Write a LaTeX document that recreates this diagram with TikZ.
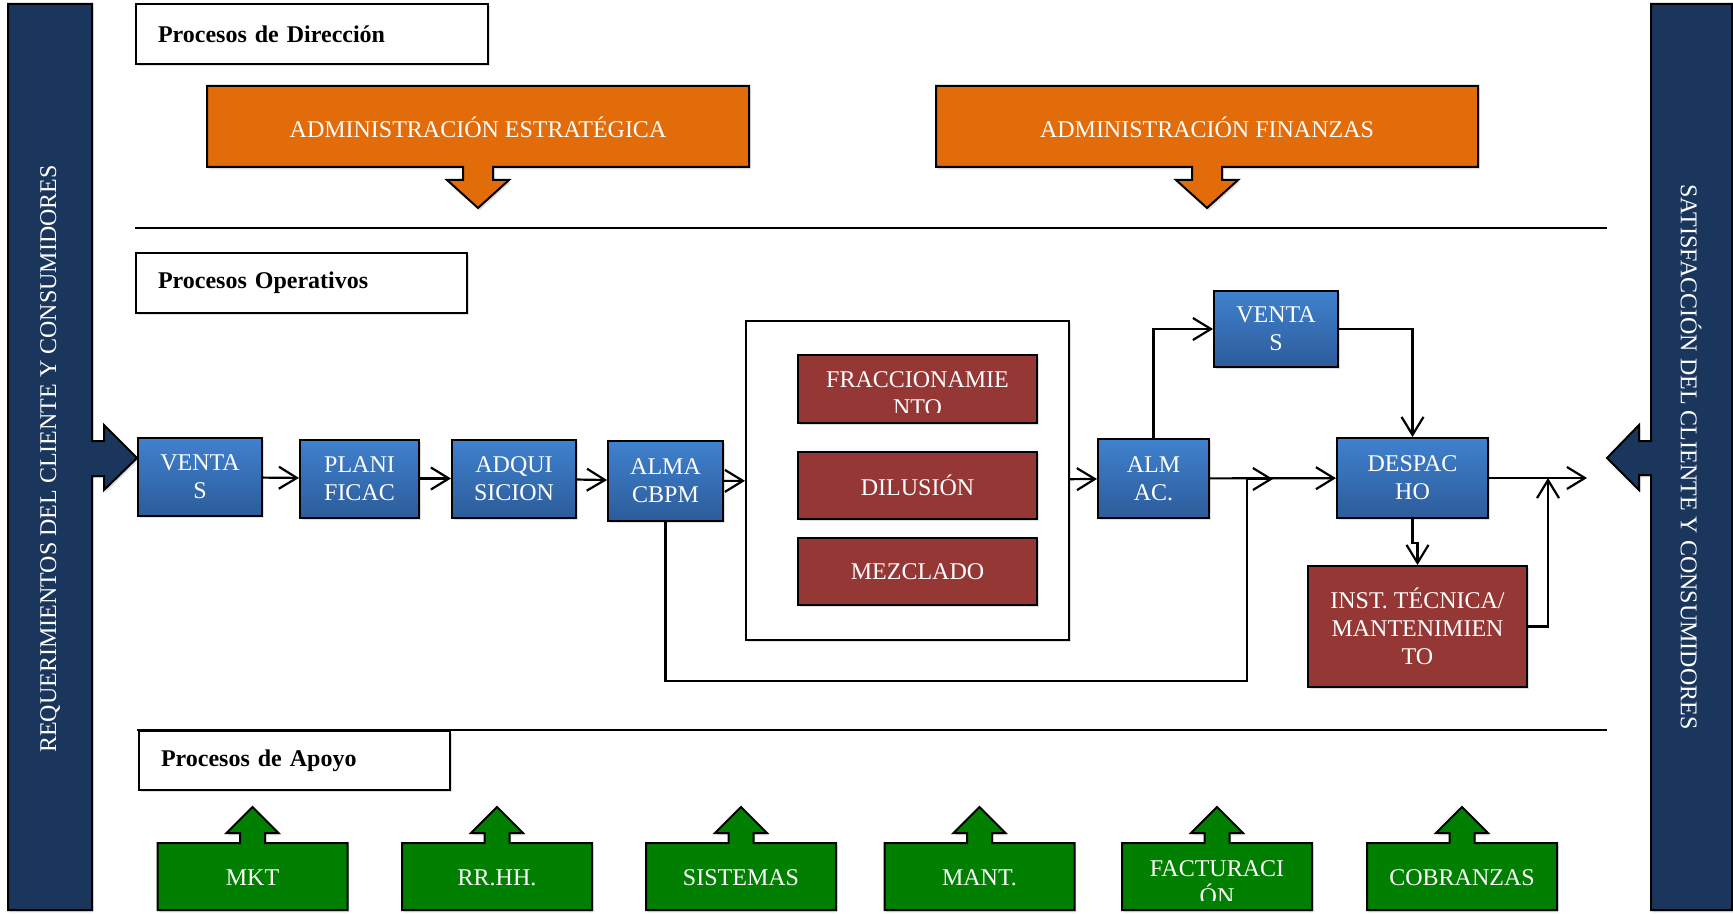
\documentclass[tikz,border=0pt]{standalone}
\usepackage{fontspec}
\setmainfont{Liberation Serif}
\usetikzlibrary{arrows.meta,positioning,calc,shadows}

\definecolor{navy}{HTML}{1B365D}
\definecolor{naranja}{HTML}{E36C0A}
\definecolor{azulA}{HTML}{4081CE}
\definecolor{azulB}{HTML}{2C5C9A}
\definecolor{rojo}{HTML}{953735}
\definecolor{verde}{HTML}{007F00}

\begin{document}
\begin{tikzpicture}[
  x=0.5pt, y=0.5pt,
  font=\fontsize{12}{14}\selectfont,
  >={Straight Barb[length=9pt,width=11pt]},
  sombra/.style={drop shadow={shadow xshift=0.8pt, shadow yshift=-1.2pt, opacity=0.25}},
  titulo/.style={draw, line width=1pt, fill=white, sombra, align=left, inner xsep=11pt, font=\fontsize{12}{14}\selectfont\bfseries, anchor=north west},
  proc/.style={draw, line width=1pt, sombra, top color=azulA, bottom color=azulB, text=white, align=center, minimum height=39pt},
  tarea/.style={draw, line width=1pt, sombra, fill=rojo, text=white, align=center},
  bloque/.style={draw, line width=1pt, sombra},
  etiq/.style={text=white, align=center},
  flow/.style={->, line width=1.1pt},
  regla/.style={line width=1pt}
]
\useasboundingbox (0,0) rectangle (1733,-914);

\filldraw[bloque, fill=navy] (8,-4) -- (92,-4) -- (92,-441) -- (104,-441) -- (104,-425) -- (137,-458)
  -- (104,-490) -- (104,-476) -- (92,-476) -- (92,-910) -- (8,-910) -- cycle;
\node[etiq, rotate=90] (req) at (50,-459) {REQUERIMIENTOS DEL CLIENTE Y CONSUMIDORES};

\filldraw[bloque, fill=navy] (1732,-4) -- (1651,-4) -- (1651,-441) -- (1639,-441) -- (1639,-425) -- (1607,-458)
  -- (1639,-490) -- (1639,-475) -- (1651,-475) -- (1651,-910) -- (1732,-910) -- cycle;
\node[etiq, rotate=-90] (sat) at (1691,-457) {SATISFACCIÓN DEL CLIENTE Y CONSUMIDORES};

\node[titulo, text width=154pt, minimum height=30pt] (tdir) at (135,-3) {Procesos de Dirección};
\node[titulo, text width=143.5pt, minimum height=30pt] (tope) at (135,-252) {Procesos Operativos};
\node[titulo, text width=133.5pt, minimum height=29.5pt] (tapo) at (138,-730) {Procesos de Apoyo};

\foreach \cx/\nm/\lab in {478/admest/{ADMINISTRACIÓN ESTRATÉGICA}, 1207/admfin/{ADMINISTRACIÓN FINANZAS}} {
  \filldraw[bloque, fill=naranja] (\cx-271,-86) -- (\cx+271,-86) -- (\cx+271,-167) -- (\cx+15,-167) -- (\cx+15,-180)
    -- (\cx+31,-180) -- (\cx,-208) -- (\cx-31,-180) -- (\cx-15,-180) -- (\cx-15,-167) -- (\cx-271,-167) -- cycle;
  \node[etiq] (\nm) at (\cx,-127) {\lab};
}

\draw[regla] (135,-228) -- (1607,-228);
\draw[regla] (137,-730) -- (1607,-730);

\node[proc, minimum width=62pt] (ventas) at (200,-477) {VENTA\\S};
\node[proc, minimum width=59.5pt] (planif) at (359.5,-478.5) {PLANI\\FICAC};
\node[proc, minimum width=62pt] (adqui) at (514,-478.5) {ADQUI\\SICION};
\node[proc, minimum width=57.5pt, minimum height=40pt] (almacbpm) at (665.5,-481) {ALMA\\CBPM};

\node[bloque, fill=white, minimum width=161.5pt, minimum height=159.5pt] (planta) at (907.5,-480.5) {};
\node[tarea, minimum width=119.5pt, minimum height=34pt] (fracc) at (917.5,-389) {};
\begin{scope}
  \clip (fracc.north west) rectangle ($(fracc.south east)+(0,12)$);
  \node[etiq] (fracctxt) at ($(fracc.center)+(0,-5)$) {FRACCIONAMIE\\NTO};
\end{scope}
\node[tarea, minimum width=119.5pt, minimum height=33.5pt] (dilu) at (917.5,-485.5) {DILUSIÓN};
\node[tarea, minimum width=119.5pt, minimum height=33.5pt] (mezcla) at (917.5,-571.5) {MEZCLADO};

\node[proc, minimum width=55.5pt, minimum height=39.5pt] (almac) at (1153.5,-478.5) {ALM\\AC.};
\node[proc, minimum width=62pt, minimum height=38pt] (ventas2) at (1276,-329) {VENTA\\S};
\node[proc, minimum width=75.5pt, minimum height=40pt] (despacho) at (1412.5,-478) {DESPAC\\HO};
\node[tarea, minimum width=109.5pt, minimum height=60.5pt] (inst) at (1417.5,-626.5) {INST. TÉCNICA/\\MANTENIMIEN\\TO};

\coordinate (union) at (1247,-479);
\coordinate (llegada) at (1273,-479);
\coordinate (salida) at (1587,-478);
\coordinate (retorno) at (1548,-478);

\foreach \a/\b in {ventas/planif, planif/adqui, adqui/almacbpm, almacbpm/planta, planta/almac, almac/despacho}
  \draw[flow] (\a) -- (\b);
\draw[flow] (almacbpm.south) -- ++(0,-159) -| (union) -- (llegada);
\draw[flow] (almac.north) |- (ventas2.west);
\draw[flow] (ventas2.east) -| (despacho.north);
\draw[flow] (despacho.south) -- ++(0,-24) -| (inst.north);
\draw[flow] (despacho.east) -- (salida);
\draw[flow] (inst.east) -| (retorno);

\foreach \cx/\cy/\nm/\lab in {252.5/878/mkt/MKT, 497/878/rrhh/RR.HH., 741/878/sistemas/SISTEMAS,
    979.5/878/mant/MANT., 1217/883/factu/{FACTURACI\\ÓN}, 1462/878/cobra/COBRANZAS} {
  \filldraw[bloque, fill=verde] (\cx-95,-910) -- (\cx-95,-843) -- (\cx-12.5,-843) -- (\cx-12.5,-833) -- (\cx-26,-833)
    -- (\cx,-807) -- (\cx+26,-833) -- (\cx+12.5,-833) -- (\cx+12.5,-843) -- (\cx+95,-843) -- (\cx+95,-910) -- cycle;
  \begin{scope}
    \clip (\cx-95,-843) rectangle (\cx+95,-900);
    \node[etiq] (\nm) at (\cx,-\cy) {\lab};
  \end{scope}
}

\end{tikzpicture}
\end{document}
